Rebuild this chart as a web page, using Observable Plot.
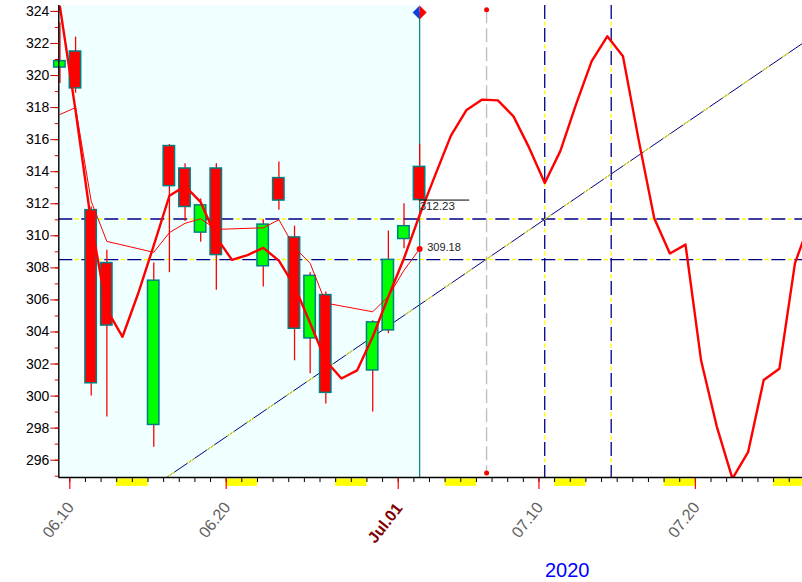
<!DOCTYPE html>
<html><head><meta charset="utf-8">
<script src="https://cdn.jsdelivr.net/npm/d3@7"></script>
<script src="https://cdn.jsdelivr.net/npm/@observablehq/plot@0.6"></script>
<style>
html,body{margin:0;padding:0;background:#fff;overflow:hidden;}
#chart svg{display:block;}
</style></head><body><div id="chart"></div>
<script>
// ---- data ----
const tradeDates = ["2020-06-09","2020-06-10","2020-06-11","2020-06-12","2020-06-15","2020-06-16","2020-06-17","2020-06-18","2020-06-19","2020-06-22","2020-06-23","2020-06-24","2020-06-25","2020-06-26","2020-06-29","2020-06-30","2020-07-01","2020-07-02"];
const openVals  = [320.5, 321.5, 311.6, 308.3, 298.2, 315.6, 314.2, 310.2, 314.2, 308.1, 313.6, 309.9, 303.6, 306.3, 301.6, 304.1, 309.8, 314.3];
const highVals  = [323.3, 322.4, 311.8, 309.1, 308.3, 315.7, 314.5, 312.3, 314.5, 311.0, 314.6, 310.6, 307.7, 306.5, 304.7, 310.3, 312.0, 315.7];
const lowVals   = [319.5, 318.9, 300.0, 298.7, 296.8, 307.7, 310.9, 309.6, 306.6, 306.8, 311.6, 302.2, 301.4, 299.5, 299.0, 303.9, 309.2, 312.1];
const closeVals = [320.9, 319.2, 300.8, 304.4, 307.2, 313.1, 311.8, 311.9, 308.8, 310.7, 312.2, 304.2, 307.5, 300.2, 304.6, 308.5, 310.6, 312.23];
const avgVals   = [317.57, 318.0, 312.15, 309.65, 308.97, 310.2, 310.78, 311.06, 310.4, 310.5, 311.0, 309.28, 308.28, 305.8, 305.26, 306.22, 307.85, 309.18];

const curveStart = "2020-06-09";
const curveVals = [324.3, 317.8, 310.8, 305.4, 303.7, 306.4, 309.4, 312.5, 313.1, 312.1,
  309.9, 308.5, 308.8, 309.25, 308.45, 306.85, 304.55, 302.2, 301.1, 301.6,
  303.7, 306.2, 308.6, 311.3, 313.8, 316.25, 317.85, 318.5, 318.45, 317.45,
  315.5, 313.3, 315.3, 318.2, 320.9, 322.45, 321.2, 316.0, 311.1, 308.9,
  309.45, 302.2, 298.1, 294.85, 296.5, 301.0, 301.7, 308.3, 311.0];

const trendDates = ["2020-06-15", "2020-07-28"];
const trendVals = [294.13, 322.77];

const levelVals = [311.05, 308.52];
const cycleDates = ["2020-07-10T08:50:00Z", "2020-07-14T14:50:00Z"];
const midDate = "2020-07-06T15:35:00Z";
const midTop = 324.1, midBottom = 295.2;

const lastClose = 312.23;
const lastAvg = 309.18;
const markerVal = 323.93;

const weekendStarts = ["2020-06-13","2020-06-20","2020-06-27","2020-07-04","2020-07-11","2020-07-18","2020-07-25"];
const labelDates = ["2020-06-10","2020-06-20","2020-07-01","2020-07-10","2020-07-20"];
const labelTexts = ["06.10","06.20","Jul.01","07.10","07.20"];
const yTicks = [296,298,300,302,304,306,308,310,312,314,316,318,320,322,324];
const yMinor = d3.range(295, 325, 1);
const yearLabel = "2020";

// ---- build ----
const DAY = 864e5;
const T = s => new Date(s.length > 10 ? s : s + "T00:00:00Z").getTime();
const CENTER = 0.37 * DAY, BODY = 0.73 * DAY;
const base = T("2020-06-10");
const xDomain = [new Date(base - 0.703 * DAY), new Date(base + 46.85 * DAY)];
const yDomain = [294.92, 324.37];

const candles = tradeDates.map((d, i) => ({t: T(d), o: openVals[i], h: highVals[i], l: lowVals[i], c: closeVals[i], a: avgVals[i]}));
const up = candles.filter(d => d.c >= d.o), down = candles.filter(d => d.c < d.o);
const curve = curveVals.map((v, i) => ({t: new Date(T(curveStart) + i * DAY + CENTER), v}));
const trend = trendDates.map((d, i) => ({t: new Date(T(d)), v: trendVals[i]}));
const lastT = new Date(candles[candles.length - 1].t + CENTER);
const dailyTicks = d3.utcDay.range(new Date(base), xDomain[1]);

const halfL = {draw(ctx, size){ const r = Math.sqrt(size / Math.PI); ctx.moveTo(0,-r); ctx.lineTo(-r,0); ctx.lineTo(0,r); ctx.closePath(); }};
const halfR = {draw(ctx, size){ const r = Math.sqrt(size / Math.PI); ctx.moveTo(0,-r); ctx.lineTo(r,0); ctx.lineTo(0,r); ctx.closePath(); }};

const NAVY = "#000080", YEL = "#ffff00", RED = "#ff0000", TEAL = "#008080";
const labels = labelDates.map((d, i) => ({t: new Date(T(d)), s: labelTexts[i]}));

const chart = Plot.plot({
  width: 802, height: 582,
  marginLeft: 58.3, marginRight: 0, marginTop: 5, marginBottom: 105,
  x: {type: "utc", domain: xDomain},
  y: {domain: yDomain},
  style: {fontFamily: "'Liberation Sans', Arial, sans-serif", fontSize: "14px", background: "#fff"},
  marks: [
    Plot.rect([0], {x1: () => xDomain[0], x2: () => lastT, fill: "#f0ffff"}),
    Plot.ruleY(weekendStarts, {x1: d => new Date(T(d)), x2: d => new Date(T(d) + 2 * DAY), y: () => yDomain[0], dy: 4.7, stroke: YEL, strokeWidth: 7.4}),
    // horizontal levels
    Plot.ruleY(levelVals, {stroke: YEL, strokeWidth: 1.4, strokeDasharray: "4,19", strokeDashoffset: 6.5}),
    Plot.ruleY(levelVals, {stroke: NAVY, strokeWidth: 1.3, strokeDasharray: "14,9"}),
    // vertical cycle lines
    Plot.ruleX(cycleDates, {x: d => new Date(T(d)), stroke: YEL, strokeWidth: 1.4, strokeDasharray: "4,19", strokeDashoffset: 6.5}),
    Plot.ruleX(cycleDates, {x: d => new Date(T(d)), stroke: NAVY, strokeWidth: 1.3, strokeDasharray: "14,9"}),
    // grey mid line
    Plot.ruleX([midDate], {x: d => new Date(T(d)), y1: midTop, y2: midBottom, stroke: "#c0c0c0", strokeWidth: 1.4, strokeDasharray: "14,5"}),
    Plot.dot([midTop, midBottom], {x: () => new Date(T(midDate)), y: d => d, r: 2.5, fill: RED}),
    // trend line
    Plot.line(trend, {x: "t", y: "v", stroke: NAVY, strokeWidth: 1, clip: true}),
    Plot.line(trend, {x: "t", y: "v", stroke: YEL, strokeWidth: 1, strokeDasharray: "8,16", clip: true}),
    // teal current-day line
    Plot.ruleX([lastT], {y1: markerVal, y2: yDomain[0], stroke: TEAL, strokeWidth: 1.2}),
    // candles
    Plot.ruleX(candles, {x: d => new Date(d.t + CENTER), y1: "l", y2: "h", stroke: RED, strokeWidth: 1.3}),
    Plot.rect(up, {x1: d => new Date(d.t), x2: d => new Date(d.t + BODY), y1: "o", y2: "c", fill: "#00ff00", stroke: TEAL, strokeWidth: 1.5}),
    Plot.rect(down, {x1: d => new Date(d.t), x2: d => new Date(d.t + BODY), y1: "o", y2: "c", fill: RED, stroke: TEAL, strokeWidth: 1.5}),
    // averages
    Plot.line(candles, {x: d => new Date(d.t + CENTER), y: "a", stroke: RED, strokeWidth: 1}),
    Plot.line(curve, {x: "t", y: "v", stroke: RED, strokeWidth: 2.4, clip: true}),
    // last values
    Plot.ruleY([lastClose], {x1: () => lastT, x2: () => new Date(lastT.getTime() + 3.2 * DAY), stroke: "#000", strokeWidth: 1}),
    Plot.text([lastClose], {x: () => lastT, y: d => d, text: d => d.toFixed(2), dx: 0, dy: 6, textAnchor: "start", fontSize: 11.5, fill: "#222"}),
    Plot.dot([lastAvg], {x: () => lastT, y: d => d, r: 3, fill: RED}),
    Plot.text([lastAvg], {x: () => lastT, y: d => d, text: d => d.toFixed(2), dx: 7.5, dy: -1, textAnchor: "start", fontSize: 11, fill: "#222"}),
    Plot.dot([markerVal], {x: () => lastT, y: d => d, r: 7, symbol: halfL, fill: "#1040e0", stroke: "none"}),
    Plot.dot([markerVal], {x: () => lastT, y: d => d, r: 7, symbol: halfR, fill: RED, stroke: "none"}),
    // axes
    Plot.axisY(yMinor, {tickSize: 3.5, stroke: "#cc0000", fill: "none", label: null}),
    Plot.axisY(yTicks, {tickSize: 8, tickPadding: 1.5, stroke: "#cc0000", fill: "#000", fontSize: 14, label: null}),
    Plot.axisX(dailyTicks, {tickSize: 5, stroke: "#000", fill: "none", label: null}),
    Plot.axisX(labels.map(d => d.t), {tickSize: 12, stroke: RED, strokeWidth: 1.2, fill: "none", label: null}),
    Plot.ruleX([xDomain[0]], {stroke: "#000", strokeWidth: 1.4}),
    Plot.ruleY([yDomain[0]], {stroke: "#000", strokeWidth: 1.4}),
    Plot.text(labels.filter(d => d.s !== "Jul.01"),
      {x: "t", text: "s", frameAnchor: "bottom", dx: 5, dy: 30, rotate: -52, textAnchor: "end", fontSize: 16, fill: "#606060"}),
    Plot.text(labels.filter(d => d.s === "Jul.01"),
      {x: "t", text: "s", frameAnchor: "bottom", dx: 5, dy: 31, rotate: -52, textAnchor: "end", fontSize: 16, fontWeight: "bold", fill: "#800000"}),
    Plot.text([yearLabel], {text: d => d, frameAnchor: "bottom-left", dx: 508.4, dy: 99.5, textAnchor: "middle", fontSize: 20, fill: "#0000ff"})
  ]
});
document.getElementById("chart").append(chart);
</script>
</body></html>
